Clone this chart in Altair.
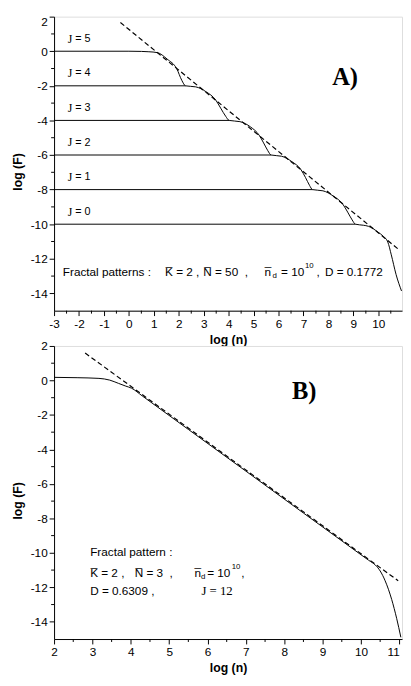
import altair as alt
import pandas as pd

SANS = "Liberation Sans"
SERIF = "Liberation Serif"
OVL = "\u0305"
NB = "\u00a0"

# ---------------- Panel A data ----------------
A_stair_x = [-3.0, 0.0, 0.5, 0.8, 1.14, 1.53, 1.92, 2.12, 2.27, 2.68, 3.09, 3.48, 3.68, 3.88, 4.02,
             4.45, 4.88, 5.22, 5.40, 5.57, 5.70, 6.12, 6.53, 6.90, 7.08, 7.24, 7.36, 7.78, 8.20,
             8.58, 8.77, 8.95, 9.08, 9.40, 9.60, 9.99, 10.20, 10.38, 10.52, 10.71, 10.93]
A_stair_y = [0.0, 0.0, -0.01, -0.03, -0.08, -0.45, -1.02, -1.68, -2.0, -2.06, -2.34, -2.82, -3.29, -3.76, -4.0,
             -4.07, -4.38, -4.85, -5.30, -5.75, -6.0, -6.07, -6.38, -6.85, -7.30, -7.75, -8.0, -8.07, -8.38,
             -8.85, -9.30, -9.75, -10.0, -10.06, -10.12, -10.46, -10.70, -11.03, -11.77, -12.90, -13.86]
A_J = [5, 4, 3, 2, 1, 0]
A_J_level = [0, -2, -4, -6, -8, -10]
A_flat_start = [-3.0, -3.0, -3.0, -3.0, -3.0]
A_flat_end = [2.27, 4.02, 5.70, 7.36, 9.08]
A_dash_x = [-0.34, 10.79]
A_dash_y = [1.66, -11.43]
A_xmajor = [-3, -2, -1, 0, 1, 2, 3, 4, 5, 6, 7, 8, 9, 10]
A_xminor = [-2.5, -1.5, -0.5, 0.5, 1.5, 2.5, 3.5, 4.5, 5.5, 6.5, 7.5, 8.5, 9.5, 10.5]
Y_major = [-14, -12, -10, -8, -6, -4, -2, 0, 2]
Y_minor = [-13, -11, -9, -7, -5, -3, -1, 1]

# ---------------- Panel B data ----------------
B_curve_x = [2.0, 2.6, 3.17, 3.45, 3.68, 3.87, 4.02, 4.3, 5.5, 7.0, 8.5, 9.95, 10.2, 10.38,
             10.5, 10.63, 10.8, 10.93, 11.04]
B_curve_y = [0.18, 0.16, 0.12, 0.02, -0.17, -0.33, -0.45, -0.90, -2.84, -5.26, -7.69, -10.03, -10.43,
             -10.72, -11.05, -11.62, -12.7, -13.8, -14.9]
B_dash_x = [2.81, 10.97]
B_dash_y = [1.59, -11.62]
B_xmajor = [2, 3, 4, 5, 6, 7, 8, 9, 10, 11]
B_xminor = [2.5, 3.5, 4.5, 5.5, 6.5, 7.5, 8.5, 9.5, 10.5]

W = 355
HA = 300
HB = 299

# ---------- frames ----------
rowsA = []
for i, (x, y) in enumerate(zip(A_stair_x, A_stair_y)):
    rowsA.append({"x": x, "y": y, "s": "J5", "o": i})
for j, lvl, x0, x1 in zip(A_J[1:], A_J_level[1:], A_flat_start, A_flat_end):
    rowsA.append({"x": x0, "y": lvl, "s": f"J{j}", "o": 0})
    rowsA.append({"x": x1, "y": lvl, "s": f"J{j}", "o": 1})
dfA = pd.DataFrame(rowsA)
dfAd = pd.DataFrame({"x": A_dash_x, "y": A_dash_y})

dfB = pd.DataFrame({"x": B_curve_x, "y": B_curve_y, "o": list(range(len(B_curve_x)))})
dfBd = pd.DataFrame({"x": B_dash_x, "y": B_dash_y})


def x_axis(values, align_last=None):
    kw = dict(
        values=values, tickCount=100, title="log (n)", labelExpr="'' + datum.value", tickSize=5,
        grid=False, domainColor="black", tickColor="black", labelColor="black",
        labelFont=SANS, labelFontSize=12, titleFont=SANS, titleFontSize=12.5,
        titleFontWeight="bold", titleColor="black", labelOverlap=False, labelFlush=False,
        labelPadding=3, titlePadding=4, domainWidth=1, tickWidth=1,
    )
    if align_last is not None:
        kw["labelAlign"] = {"condition": {"test": f"datum.value == {align_last}", "value": "right"},
                            "value": "center"}
    return alt.Axis(**kw)


def y_axis(h, flush):
    return alt.Axis(
        values=Y_major, tickCount=100, title="log (F)", labelExpr="'' + datum.value", tickSize=5,
        grid=False, domainColor="black", tickColor="black", labelColor="black",
        labelFont=SANS, labelFontSize=12, titleFont=SANS, titleFontSize=12.5,
        titleFontWeight="bold", titleColor="black", labelOverlap=False, labelFlush=flush,
        labelPadding=2, titlePadding=6, titleY=h / 2 + 8, domainWidth=1, tickWidth=1,
    )


def texts(df, font, size, weight="normal"):
    return alt.Chart(df).mark_text(align="left", baseline="middle", font=font, fontSize=size,
                                   fontWeight=weight, color="black").encode(
        x="x:Q", y="y:Q", text="t:N")


def minor_x(vals, h):
    return alt.Chart(pd.DataFrame({"v": vals})).mark_rule(color="black", strokeWidth=1).encode(
        x="v:Q", y=alt.value(h), y2=alt.value(h + 3))


def minor_y(vals):
    return alt.Chart(pd.DataFrame({"v": vals})).mark_rule(color="black", strokeWidth=1).encode(
        y="v:Q", x=alt.value(0), x2=alt.value(-3))


# ---------------- Panel A ----------------
xsA = alt.Scale(domain=[-3, 10.95], nice=False, zero=False)
ysA = alt.Scale(domain=[-15, 2], nice=False, zero=False)

linesA = alt.Chart(dfA).mark_line(color="black", strokeWidth=1, interpolate="monotone", clip=True).encode(
    x=alt.X("x:Q", scale=xsA, axis=x_axis(A_xmajor)),
    y=alt.Y("y:Q", scale=ysA, axis=y_axis(HA, True)),
    detail="s:N", order="o:Q")
dashA = alt.Chart(dfAd).mark_line(color="black", strokeWidth=1.2, strokeDash=[5, 3]).encode(x="x:Q", y="y:Q")

jA_J = pd.DataFrame({"x": [-2.45] * 6, "y": [l + 0.72 for l in A_J_level], "t": ["J"] * 6})
jA_n = pd.DataFrame({"x": [-2.15] * 6, "y": [l + 0.72 for l in A_J_level], "t": [f"= {j}" for j in A_J]})

A_main = pd.DataFrame({
    "x": [-2.65, 1.45, 2.98, 5.44, 6.10, 7.52, 7.86],
    "y": [-12.75] * 7,
    "t": ["Fractal patterns :", "K" + OVL + " = 2 ,", "N" + OVL + " = 50" + NB + NB + ",", "n" + OVL,
          "= 10", ",", "D = 0.1772"],
})
A_small = pd.DataFrame({"x": [5.76, 7.06], "y": [-13.02, -12.42], "t": ["d", "10"]})
A_lab = pd.DataFrame({"x": [8.15], "y": [-1.5], "t": ["A)"]})

chartA = alt.layer(
    linesA, dashA, minor_x(A_xminor, HA), minor_y(Y_minor),
    texts(jA_J, SERIF, 12), texts(jA_n, SANS, 11),
    texts(A_main, SANS, 12), texts(A_small, SANS, 8),
    texts(A_lab, SERIF, 25, "bold"),
).properties(width=W, height=HA)

# ---------------- Panel B ----------------
xsB = alt.Scale(domain=[2, 11.07], nice=False, zero=False)
ysB = alt.Scale(domain=[-15, 2], nice=False, zero=False)

lineB = alt.Chart(dfB).mark_line(color="black", strokeWidth=1, interpolate="monotone", clip=True).encode(
    x=alt.X("x:Q", scale=xsB, axis=x_axis(B_xmajor, align_last=11)),
    y=alt.Y("y:Q", scale=ysB, axis=y_axis(HB, False)),
    order="o:Q")
dashB = alt.Chart(dfBd).mark_line(color="black", strokeWidth=1.2, strokeDash=[5, 3]).encode(x="x:Q", y="y:Q")

B_main = pd.DataFrame({
    "x": [2.94, 2.94, 4.10, 5.66, 5.99, 6.88, 2.94],
    "y": [-9.93, -11.15, -11.15, -11.15, -11.15, -11.15, -12.23],
    "t": ["Fractal pattern :", "K" + OVL + " = 2 ,", "N" + OVL + " = 3" + NB + NB + ",", "n" + OVL,
          "= 10", ",", "D = 0.6309 ,"],
})
B_small = pd.DataFrame({"x": [5.83, 6.63], "y": [-11.42, -10.85], "t": ["d", "10"]})
B_serif = pd.DataFrame({"x": [5.84], "y": [-12.23], "t": ["J = 12"]})
B_lab = pd.DataFrame({"x": [8.2], "y": [-0.6], "t": ["B)"]})

chartB = alt.layer(
    lineB, dashB, minor_x(B_xminor, HB), minor_y(Y_minor),
    texts(B_main, SANS, 12), texts(B_small, SANS, 8), texts(B_serif, SERIF, 13),
    texts(B_lab, SERIF, 25, "bold"),
).properties(width=W, height=HB)

chart = alt.vconcat(chartA, chartB, spacing=-10).properties(
    padding={"left": 3, "top": 0, "right": 0, "bottom": 0}
).configure_view(stroke=None).configure_axis(labelOverlap=False).configure(background="white")

chart.save("out.html", embed_options={"renderer": "svg", "actions": False})
